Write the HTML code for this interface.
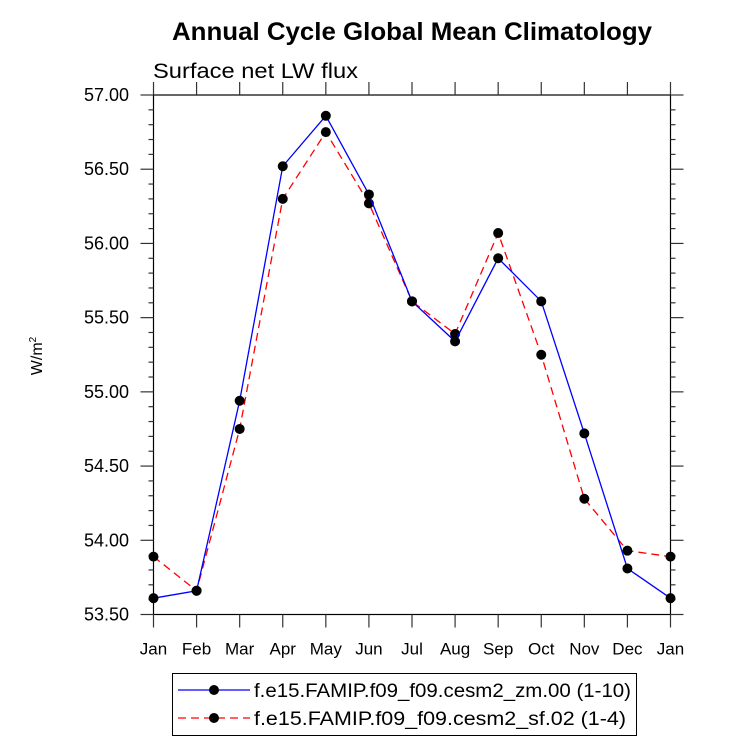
<!DOCTYPE html>
<html><head><meta charset="utf-8"><style>body{margin:0;background:#fff}svg{display:block;font-family:"Liberation Sans",Arial,sans-serif}</style></head>
<body>
<svg id="c" width="733" height="748">
<text x="172" y="40" textLength="480" lengthAdjust="spacingAndGlyphs" font-size="25" font-weight="bold">Annual Cycle Global Mean Climatology</text>
<text x="153" y="78" textLength="205" lengthAdjust="spacingAndGlyphs" font-size="21">Surface net LW flux</text>
<text transform="translate(42,356) rotate(-90)" text-anchor="middle" font-size="16">W/m<tspan dy="-6" font-size="10">2</tspan></text>
<g id="axes"></g><g id="series"></g>
<g>
<rect x="172.5" y="673.5" width="464" height="62" fill="#fff" stroke="#000" stroke-width="1"/>
<line x1="178" y1="690" x2="250" y2="690" stroke="#0000ff" stroke-width="1.3"/><circle cx="214" cy="690" r="5"/>
<text x="254" y="697" textLength="377" lengthAdjust="spacingAndGlyphs" font-size="19">f.e15.FAMIP.f09_f09.cesm2_zm.00 (1-10)</text>
<line x1="178" y1="718" x2="250" y2="718" stroke="#ff0000" stroke-width="1.3" stroke-dasharray="8,5"/><circle cx="214" cy="718" r="5"/>
<text x="254" y="725" textLength="372" lengthAdjust="spacingAndGlyphs" font-size="19">f.e15.FAMIP.f09_f09.cesm2_sf.02 (1-4)</text>
</g>
</svg>
<script>
const months=["Jan","Feb","Mar","Apr","May","Jun","Jul","Aug","Sep","Oct","Nov","Dec","Jan"];
const seriesZm=[53.61,53.66,54.94,56.52,56.86,56.33,55.61,55.34,55.90,55.61,54.72,53.81,53.61];
const seriesSf=[53.89,53.66,54.75,56.30,56.75,56.27,55.61,55.39,56.07,55.25,54.28,53.93,53.89];
const yTicks=["53.50","54.00","54.50","55.00","55.50","56.00","56.50","57.00"];
const L=153.5,R=670.5,T=95,B=614.5,ymin=53.5,ymax=57;
const X=i=>L+(R-L)*i/(months.length-1);
const Y=v=>B-(B-T)*(v-ymin)/(ymax-ymin);
const NS="http://www.w3.org/2000/svg";
function mk(t,a,p){const e=document.createElementNS(NS,t);for(const k in a)e.setAttribute(k,a[k]);p.appendChild(e);return e;}
const ax=document.getElementById('axes'),sr=document.getElementById('series');
const frame=mk('rect',{x:L,y:T,width:R-L,height:B-T,fill:'none',stroke:'#000','stroke-width':1.2},ax);


months.forEach((m,i)=>{const x=X(i);
mk('line',{x1:x,y1:B,x2:x,y2:B+13,stroke:'#333','stroke-width':1.2},ax);
mk('line',{x1:x,y1:T,x2:x,y2:T-13,stroke:'#333','stroke-width':1.2},ax);
const t=mk('text',{x:x,y:B+40,'text-anchor':'middle','font-size':17},ax);t.textContent=m;

});
for(let v=ymin;v<=ymax+1e-6;v+=0.1){const y=Y(v);const maj=Math.abs(v*2-Math.round(v*2))<1e-6;const len=maj?13:5;
mk('line',{x1:L,y1:y,x2:L-len,y2:y,stroke:'#333','stroke-width':1.2},ax);
mk('line',{x1:R,y1:y,x2:R+len,y2:y,stroke:'#333','stroke-width':1.2},ax);}
yTicks.forEach(s=>{const y=Y(parseFloat(s));const t=mk('text',{x:129,y:y+6,'text-anchor':'end','font-size':18},ax);t.textContent=s;

});
function draw(vals,col,dash,name){
const p=mk('polyline',{points:vals.map((v,i)=>X(i)+','+Y(v)).join(' '),fill:'none',stroke:col,'stroke-width':1.3,'stroke-dasharray':dash},sr);


vals.forEach((v,i)=>{const c=mk('circle',{cx:X(i),cy:Y(v),r:5,fill:'#000'},sr);

});}
draw(seriesSf,'#ff0000','8,5','sf-series');
draw(seriesZm,'#0000ff','none','zm-series');
</script>
</body></html>
